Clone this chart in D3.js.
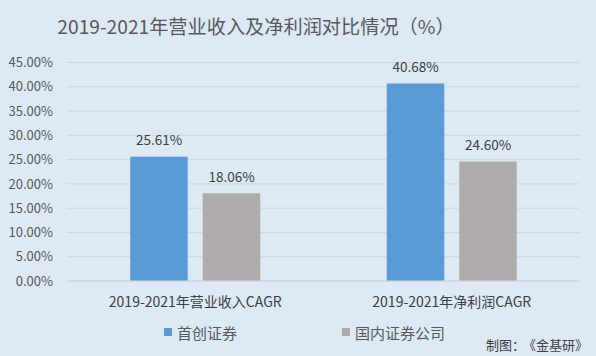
<!DOCTYPE html>
<html><head><meta charset="utf-8">
<script src="https://cdn.jsdelivr.net/npm/d3@7"></script>
<style>html,body{margin:0;padding:0;background:#dde9f5;}svg{display:block;}</style>
</head><body>
<script>
const categories = ["2019-2021年营业收入CAGR", "2019-2021年净利润CAGR"];
const seriesNames = ["首创证券", "国内证券公司"];
const shouchuang = [25.61, 40.68];
const domestic = [18.06, 24.60];
const yTicks = [0, 5, 10, 15, 20, 25, 30, 35, 40, 45];
const colors = ["#5b9bd5", "#afabab"];
const title = "2019-2021年营业收入及净利润对比情况（%）";
const sourceLabel = "制图：";
const sourceName = "《金基研》";

(function () {
const W = 596, H = 356;
const font = "'Noto Sans CJK SC', 'Noto Sans', sans-serif";
const svg = d3.select("body").append("svg").attr("width", W).attr("height", H);
svg.append("rect").attr("width", W).attr("height", H).attr("fill", "#dde9f5");

const pLeft = 67, pRight = 580, pTop = 62.5, pBottom = 281;
const y = d3.scaleLinear().domain([0, 45]).range([pBottom, pTop]);
const x0 = d3.scaleBand().domain(categories).range([pLeft, pRight]).paddingInner(0).paddingOuter(0);
const groupW = 130;
const x1 = d3.scaleBand().domain(seriesNames).range([0, groupW]).paddingInner(0.207).paddingOuter(0);

// gridlines
svg.append("g").selectAll("line").data(yTicks).join("line")
  .attr("x1", pLeft).attr("x2", pRight)
  .attr("y1", d => y(d)).attr("y2", d => y(d))
  .attr("stroke", "#d5d5d5").attr("stroke-width", 1);

// y axis labels
const yAxis = d3.axisLeft(y).tickValues(yTicks).tickFormat(d => d.toFixed(2) + "%").tickSize(0).tickPadding(0);
const ya = svg.append("g").attr("transform", `translate(${53},0)`).call(yAxis);
ya.select(".domain").remove();
ya.selectAll("text").attr("font-family", font).attr("font-size", 13).attr("fill", "#595959");

const data = [shouchuang, domestic];
data.forEach((vals, si) => {
  const g = svg.append("g");
  g.selectAll("rect").data(vals).join("rect")
    .attr("x", (d, i) => x0(categories[i]) + (x0.bandwidth() - groupW) / 2 + x1(seriesNames[si]))
    .attr("width", x1.bandwidth())
    .attr("y", d => y(d))
    .attr("height", d => y(0) - y(d))
    .attr("fill", colors[si]);
  g.selectAll("text").data(vals).join("text")
    .attr("x", (d, i) => x0(categories[i]) + (x0.bandwidth() - groupW) / 2 + x1(seriesNames[si]) + x1.bandwidth() / 2)
    .attr("y", d => y(d) - 16)
    .attr("dy", "0.35em")
    .attr("text-anchor", "middle")
    .attr("font-family", font).attr("font-size", 13.5).attr("fill", "#404040")
    .text(d => d.toFixed(2) + "%");
});

// x axis line
svg.append("line").attr("x1", pLeft).attr("x2", pRight).attr("y1", pBottom).attr("y2", pBottom)
  .attr("stroke", "#d5d5d5");

// category labels
const xAxis = d3.axisBottom(x0).tickSize(0).tickPadding(0);
const xa = svg.append("g").attr("transform", `translate(0,${pBottom + 16})`).call(xAxis);
xa.select(".domain").remove();
xa.selectAll("text").attr("font-family", font).attr("font-size", 14).attr("fill", "#404040")
  .attr("dy", "0.35em").attr("y", 5);

// title
svg.append("text").attr("x", 256).attr("y", 26).attr("text-anchor", "middle")
  .attr("dominant-baseline", "central")
  .attr("font-family", font).attr("font-size", 19.2).attr("fill", "#595959").text(title);

// legend
const legX = [164, 342];
seriesNames.forEach((s, i) => {
  svg.append("rect").attr("x", legX[i]).attr("y", 328).attr("width", 8).attr("height", 8).attr("fill", colors[i]);
  svg.append("text").attr("x", legX[i] + 13).attr("y", 332).attr("dominant-baseline", "central")
    .attr("font-family", font).attr("font-size", 15).attr("fill", "#595959").text(s);
});

// source
svg.append("text").attr("x", 486).attr("y", 344).attr("dominant-baseline", "central")
  .attr("font-family", font).attr("font-size", 13).attr("fill", "#404040").text(sourceLabel);
svg.append("text").attr("x", 588).attr("y", 344).attr("text-anchor", "end").attr("dominant-baseline", "central")
  .attr("font-family", font).attr("font-size", 13).attr("fill", "#404040").text(sourceName);
})();
</script>
</body></html>
